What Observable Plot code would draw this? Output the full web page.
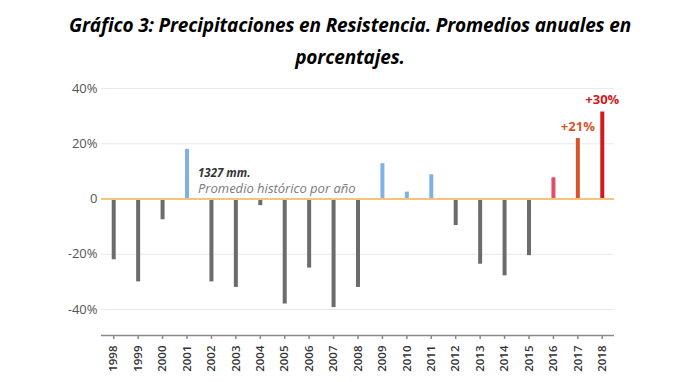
<!DOCTYPE html>
<html>
<head>
<meta charset="utf-8">
<script src="https://cdn.jsdelivr.net/npm/d3@7"></script>
<script src="https://cdn.jsdelivr.net/npm/@observablehq/plot@0.6"></script>
<style>
  html, body { margin: 0; padding: 0; background: #fff; width: 700px; height: 382px; overflow: hidden; }
  #title { height: 75px; box-sizing: border-box; padding-top: 9px; text-align: center;
    font-family: "Open Sans", sans-serif; font-weight: 700; font-style: italic; font-size: 19px;
    line-height: 32px; color: #000; letter-spacing: -0.15px; }
  #chart svg { display: block; }
</style>
</head>
<body>
<div id="title">Gráfico 3: Precipitaciones en Resistencia. Promedios anuales en<br>porcentajes.</div>
<div id="chart"></div>
<script>
const years = ["1998","1999","2000","2001","2002","2003","2004","2005","2006","2007","2008",
               "2009","2010","2011","2012","2013","2014","2015","2016","2017","2018"];
const values = [-22, -30, -7.5, 18, -30, -32, -2.4, -38, -25, -39.3, -32,
                12.8, 2.5, 8.8, -9.6, -23.6, -27.8, -20.5, 7.7, 21.9, 31.5];
const yTicks = [-40, -20, 0, 20, 40];
const labelYears = ["2017", "2018"];
const labelTexts = ["+21%", "+30%"];
const noteTitle = "1327 mm.";
const noteText = "Promedio histórico por año";

const groupOf = (y, v) => v < 0 ? "Déficit" : (+y >= 2016 ? y : "Exceso");
const data = years.map((y, i) => ({year: y, value: values[i], group: groupOf(y, values[i])}));
const labels = labelYears.map((y, i) => ({year: y, value: values[years.indexOf(y)], text: labelTexts[i],
  group: groupOf(y, values[years.indexOf(y)])}));

const yMin = -49.4, yMax = 44;
const chart = Plot.plot({
  width: 700,
  height: 307,
  marginLeft: 101,
  marginRight: 86,
  marginTop: 2,
  marginBottom: 47,
  style: {fontFamily: "Open Sans, sans-serif", background: "#fff"},
  x: {type: "band", domain: years, padding: 0, round: false, label: null},
  y: {domain: [yMin, yMax], label: null},
  color: {domain: ["Déficit", "Exceso", "2016", "2017", "2018"],
          range: ["#6c6c6c", "#80b1e6", "#df4f68", "#d8532c", "#d2191e"]},
  marks: [
    Plot.ruleY(yTicks.filter(d => d !== 0), {stroke: "#e9e9e9", strokeWidth: 1}),
    Plot.ruleY([yMin], {stroke: "#8a8a8a", strokeWidth: 1.5}),
    Plot.axisY(yTicks, {tickSize: 0, tickPadding: 4, fontSize: 13, fill: "#555",
      tickFormat: d => d === 0 ? "0" : d + "%"}),
    Plot.axisX({tickSize: 4, tickPadding: 6, tickRotate: -90, fontSize: 11.5, fill: "#333",
      fontWeight: 600, stroke: "#8a8a8a", strokeWidth: 1.5}),
    Plot.ruleX(data, {x: "year", y1: 0, y2: "value", stroke: "group", strokeWidth: 4}),
    Plot.ruleY([0], {stroke: "#f5c47c", strokeWidth: 2}),
    Plot.text(labels, {x: "year", y: "value", text: "text", fill: "group", dy: -12,
      fontSize: 13, fontWeight: 700}),
    Plot.text([noteTitle], {x: () => "2001", y: () => 0, text: d => d, dx: 11, dy: -26,
      textAnchor: "start", fontSize: 11.5, fontWeight: 700, fontStyle: "italic", fill: "#333"}),
    Plot.text([noteText], {x: () => "2001", y: () => 0, text: d => d, dx: 11, dy: -10,
      textAnchor: "start", fontSize: 13, fontStyle: "italic", fill: "#7a7a7a"})
  ]
});
document.getElementById("chart").appendChild(chart);
</script>
</body>
</html>
